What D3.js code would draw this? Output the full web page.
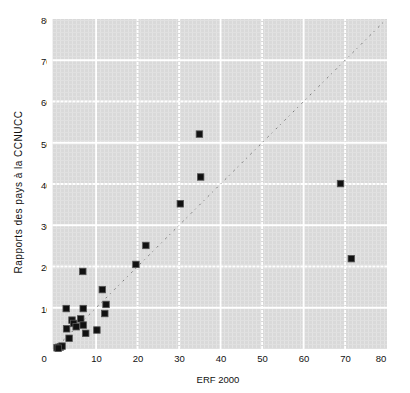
<!DOCTYPE html>
<html>
<head>
<meta charset="utf-8">
<script src="https://cdn.jsdelivr.net/npm/d3@7"></script>
<style>
  body { margin: 0; background: #fff; }
  text { font-family: "Liberation Sans", Arial, sans-serif; fill: #111; }
</style>
</head>
<body>
<div id="chart"></div>
<script>
// values
var erf2000 = [34.9, 35.2, 30.3, 22.0, 19.6, 68.9, 71.5, 6.8, 11.5, 12.4, 12.1, 2.8, 6.9, 6.3,
               4.2, 4.6, 5.2, 6.9, 2.9, 7.5, 10.2, 3.5, 0.6, 1.0, 1.4, 1.8, 0.9];
var ccnucc = [52.1, 41.7, 35.2, 25.1, 20.5, 40.1, 21.9, 18.8, 14.4, 10.8, 8.6, 9.8, 9.8, 7.3,
              7.0, 6.2, 5.4, 5.8, 4.9, 3.8, 4.6, 2.6, 0.3, 0.4, 0.5, 0.7, 0.2];
var xTicks = [0, 10, 20, 30, 40, 50, 60, 70, 80];
var yTicks = [10, 20, 30, 40, 50, 60, 70, 80];
var xTitle = "ERF 2000";
var yTitle = "Rapports des pays à la CCNUCC";

var width = 410, height = 393;
var margin = {left: 52.5, right: 23, top: 19, bottom: 44};

var data = erf2000.map(function(d, i) { return {x: d, y: ccnucc[i]}; });

var x = d3.scaleLinear()
    .domain([-0.5, 80.1])
    .range([margin.left, width - margin.right]);
var y = d3.scaleLinear()
    .domain([0, 80])
    .range([height - margin.bottom, margin.top]);

var svg = d3.select("#chart").append("svg")
    .attr("width", width)
    .attr("height", height);

// fine texture of the panel
var defs = svg.append("defs");
var pat = defs.append("pattern")
    .attr("id", "tex")
    .attr("width", 4).attr("height", 4)
    .attr("patternUnits", "userSpaceOnUse");
pat.append("rect").attr("width", 4).attr("height", 4).attr("fill", "#d9d9d9");
pat.append("rect").attr("x", 0).attr("width", 1).attr("height", 4).attr("fill", "#e3e3e3");
pat.append("rect").attr("y", 0).attr("width", 4).attr("height", 1).attr("fill", "#e0e0e0");

defs.append("clipPath").attr("id", "ylabclip")
    .append("rect")
    .attr("x", 0).attr("y", 0)
    .attr("width", margin.left - 5.5).attr("height", height);

svg.append("rect")
    .attr("x", x.range()[0])
    .attr("y", y.range()[1])
    .attr("width", x.range()[1] - x.range()[0])
    .attr("height", y.range()[0] - y.range()[1])
    .attr("fill", "url(#tex)");

// white grid
svg.append("g").selectAll("line")
    .data(xTicks.filter(function(d) { return d > 0 && d < 80; }))
    .enter().append("line")
    .attr("x1", function(d) { return x(d); })
    .attr("x2", function(d) { return x(d); })
    .attr("y1", y.range()[0])
    .attr("y2", y.range()[1])
    .attr("stroke", "#fff")
    .attr("stroke-width", 1.8)
    .attr("stroke-dasharray", function(d) { return (d == 10 || d == 40 || d == 60) ? null : "3,1"; });

svg.append("g").selectAll("line")
    .data(yTicks.filter(function(d) { return d > 0 && d < 80; }))
    .enter().append("line")
    .attr("x1", x.range()[0])
    .attr("x2", x.range()[1])
    .attr("y1", function(d) { return y(d); })
    .attr("y2", function(d) { return y(d); })
    .attr("stroke", "#fff")
    .attr("stroke-width", 1.8)
    .attr("stroke-dasharray", function(d) { return (d % 20 == 10) ? null : "3,1"; });

// y = x reference line
var diag = d3.line()
    .x(function(d) { return x(d); })
    .y(function(d) { return y(d); });
svg.append("path")
    .attr("d", diag([0, 80]))
    .attr("fill", "none")
    .attr("stroke", "#7a7a7a")
    .attr("stroke-width", 1)
    .attr("stroke-dasharray", "2,4,1,5");

// points
var s = 6.5;
svg.append("g").selectAll("rect")
    .data(data)
    .enter().append("rect")
    .attr("x", function(d) { return x(d.x) - s / 2; })
    .attr("y", function(d) { return y(d.y) - s / 2; })
    .attr("width", s)
    .attr("height", s)
    .attr("fill", "#111")
    .attr("stroke", "#555")
    .attr("stroke-width", 0.8);

// axes (labels only)
var xAxis = d3.axisBottom(x).tickValues(xTicks).tickSize(0).tickPadding(0);
var gx = svg.append("g")
    .attr("transform", "translate(0," + (y.range()[0] + 13) + ")")
    .call(xAxis);
gx.select(".domain").remove();
gx.selectAll(".tick text")
    .attr("font-size", "9.5px")
    .attr("dy", "0")
    .attr("dx", function(d) { return d == 0 ? -11 : (d == 80 ? -6 : 0); });

var yAxis = d3.axisLeft(y).tickValues(yTicks).tickSize(0).tickPadding(0);
var gclip = svg.append("g").attr("clip-path", "url(#ylabclip)");
var gy = gclip.append("g")
    .attr("transform", "translate(" + (margin.left - 1) + ",0)")
    .call(yAxis);
gy.select(".domain").remove();
gy.selectAll(".tick text")
    .attr("font-size", "9.5px")
    .attr("dy", "0.45em");

svg.append("text")
    .attr("text-anchor", "middle")
    .attr("x", 218)
    .attr("y", height - 10)
    .attr("font-size", "9.5px")
    .text(xTitle);

svg.append("text")
    .attr("text-anchor", "middle")
    .attr("transform", "translate(22,192)rotate(-90)")
    .attr("font-size", "10px")
    .attr("letter-spacing", "0.5px")
    .text(yTitle);
</script>
</body>
</html>
